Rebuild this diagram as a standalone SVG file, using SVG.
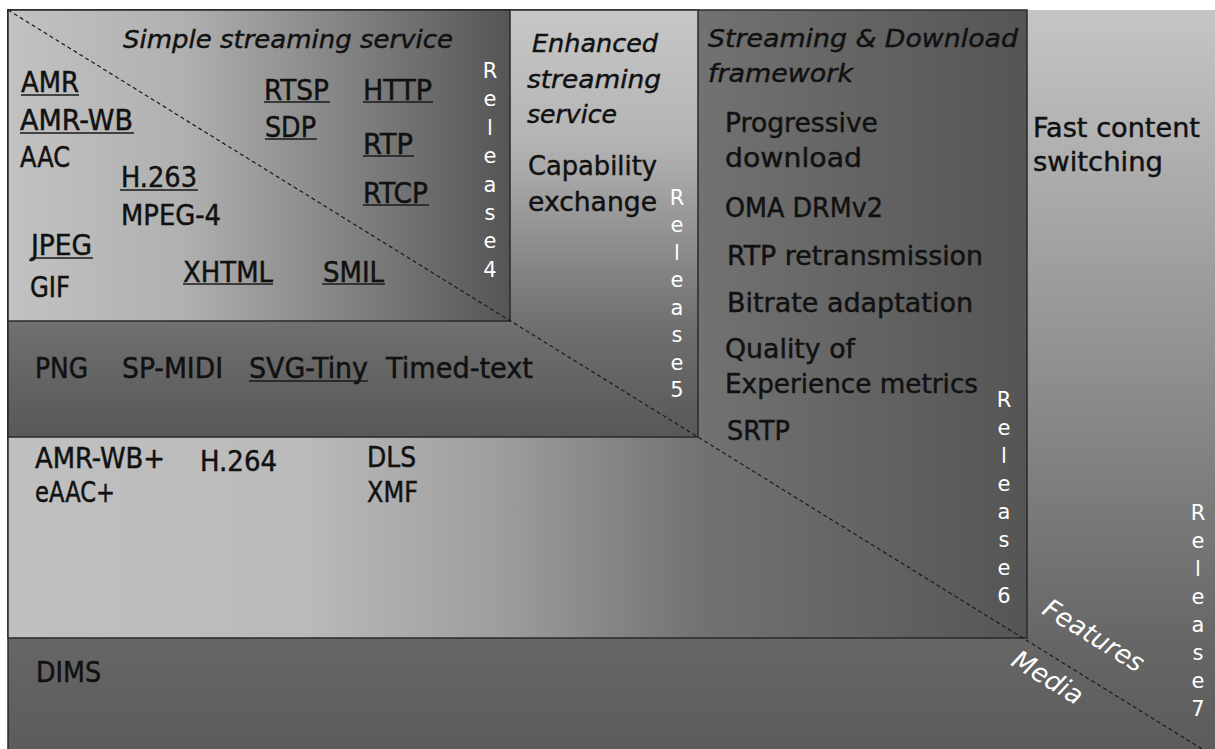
<svg xmlns="http://www.w3.org/2000/svg" width="1215" height="749" viewBox="0 0 1215 749">
<style>
.t{font-family:"DejaVu Sans","Open Sans",sans-serif;fill:#111;font-size:26px;stroke:#111;stroke-width:0.45}
.c{font-stretch:condensed;font-size:28px}
.i{font-style:italic;font-size:25px}
.rel{fill:#fff;stroke:none;font-size:21px;text-anchor:middle}
.ul{stroke:#1a1a1a;stroke-width:1.6}
.box{stroke:#2a2a2a;stroke-width:1.5}
.div{fill:#fff;stroke:none;font-style:italic;font-size:26px;text-anchor:middle}
</style>
<defs>
<linearGradient id="g7" x1="0" y1="0" x2="0" y2="1">
<stop offset="0" stop-color="#c5c5c5"/><stop offset="0.85" stop-color="#666666"/><stop offset="1" stop-color="#5b5b5b"/>
</linearGradient>
<linearGradient id="g6" x1="0" y1="0" x2="1" y2="0">
<stop offset="0" stop-color="#c0c0c0"/><stop offset="0.29" stop-color="#bababa"/><stop offset="0.48" stop-color="#9e9e9e"/><stop offset="0.68" stop-color="#727272"/><stop offset="1" stop-color="#555555"/>
</linearGradient>
<linearGradient id="g5" x1="0" y1="0" x2="0" y2="1">
<stop offset="0" stop-color="#c6c6c6"/><stop offset="0.3" stop-color="#b5b5b5"/><stop offset="0.75" stop-color="#6e6e6e"/><stop offset="1" stop-color="#585858"/>
</linearGradient>
<linearGradient id="g4" x1="0" y1="0" x2="1" y2="0">
<stop offset="0" stop-color="#c2c2c2"/><stop offset="0.35" stop-color="#b0b0b0"/><stop offset="1" stop-color="#555555"/>
</linearGradient>
</defs>
<rect width="1215" height="749" fill="#fff"/>

<g id="release7">
<rect x="8" y="10" width="1210" height="745" fill="url(#g7)"/>
<line class="box" x1="8" y1="10" x2="8" y2="749"/>
<text class="t" x="1033" y="137" textLength="167" lengthAdjust="spacingAndGlyphs">Fast content</text>
<text class="t" x="1033" y="171" textLength="130" lengthAdjust="spacingAndGlyphs">switching</text>
<text class="t c" x="36" y="682" textLength="65" lengthAdjust="spacingAndGlyphs">DIMS</text>
<g class="t rel">
<text x="1198" y="520">R</text><text x="1198" y="548">e</text><text x="1198" y="576">l</text><text x="1198" y="604">e</text><text x="1198" y="632">a</text><text x="1198" y="660">s</text><text x="1198" y="688">e</text><text x="1198" y="716">7</text>
</g>
</g>

<g id="release6">
<rect class="box" x="8" y="10" width="1019" height="628" fill="url(#g6)"/>
<text class="t i" x="708" y="47" textLength="310" lengthAdjust="spacingAndGlyphs">Streaming &amp; Download</text>
<text class="t i" x="708" y="82" textLength="145" lengthAdjust="spacingAndGlyphs">framework</text>
<text class="t" x="725" y="132" textLength="153" lengthAdjust="spacingAndGlyphs">Progressive</text>
<text class="t" x="725" y="167" textLength="137" lengthAdjust="spacingAndGlyphs">download</text>
<text class="t" x="725" y="217" textLength="158" lengthAdjust="spacingAndGlyphs">OMA DRMv2</text>
<text class="t" x="727" y="265" textLength="256" lengthAdjust="spacingAndGlyphs">RTP retransmission</text>
<text class="t" x="727" y="312" textLength="246" lengthAdjust="spacingAndGlyphs">Bitrate adaptation</text>
<text class="t" x="725" y="358" textLength="130" lengthAdjust="spacingAndGlyphs">Quality of</text>
<text class="t" x="725" y="393" textLength="253" lengthAdjust="spacingAndGlyphs">Experience metrics</text>
<text class="t" x="727" y="440" textLength="63" lengthAdjust="spacingAndGlyphs">SRTP</text>
<text class="t c" x="35" y="468" textLength="130" lengthAdjust="spacingAndGlyphs">AMR-WB+</text>
<text class="t c" x="35" y="502" textLength="80" lengthAdjust="spacingAndGlyphs">eAAC+</text>
<text class="t c" x="200" y="471" textLength="77" lengthAdjust="spacingAndGlyphs">H.264</text>
<text class="t c" x="367" y="467" textLength="49" lengthAdjust="spacingAndGlyphs">DLS</text>
<text class="t c" x="367" y="502" textLength="51" lengthAdjust="spacingAndGlyphs">XMF</text>
<g class="t rel">
<text x="1004" y="407">R</text><text x="1004" y="435">e</text><text x="1004" y="463">l</text><text x="1004" y="491">e</text><text x="1004" y="519">a</text><text x="1004" y="547">s</text><text x="1004" y="575">e</text><text x="1004" y="603">6</text>
</g>
</g>

<g id="release5">
<rect class="box" x="8" y="10" width="690" height="427" fill="url(#g5)"/>
<text class="t i" x="532" y="52" textLength="126" lengthAdjust="spacingAndGlyphs">Enhanced</text>
<text class="t i" x="527" y="88" textLength="134" lengthAdjust="spacingAndGlyphs">streaming</text>
<text class="t i" x="527" y="123" textLength="90" lengthAdjust="spacingAndGlyphs">service</text>
<text class="t" x="528" y="175" textLength="129" lengthAdjust="spacingAndGlyphs">Capability</text>
<text class="t" x="528" y="211" textLength="129" lengthAdjust="spacingAndGlyphs">exchange</text>
<text class="t c" x="35" y="378" textLength="53" lengthAdjust="spacingAndGlyphs">PNG</text>
<text class="t c" x="122" y="378" textLength="101" lengthAdjust="spacingAndGlyphs">SP-MIDI</text>
<text class="t c" x="249" y="378" textLength="119" lengthAdjust="spacingAndGlyphs">SVG-Tiny</text>
<line class="ul" x1="249" y1="381" x2="368" y2="381"/>
<text class="t c" x="386" y="378" textLength="147" lengthAdjust="spacingAndGlyphs">Timed-text</text>
<g class="t rel">
<text x="677" y="205">R</text><text x="677" y="232">e</text><text x="677" y="260">l</text><text x="677" y="287">e</text><text x="677" y="315">a</text><text x="677" y="342">s</text><text x="677" y="370">e</text><text x="677" y="397">5</text>
</g>
</g>

<g id="release4">
<rect class="box" x="8" y="10" width="502" height="311" fill="url(#g4)"/>
<text class="t i" x="123" y="48" textLength="330" lengthAdjust="spacingAndGlyphs">Simple streaming service</text>
<text class="t c" x="21" y="92" textLength="58" lengthAdjust="spacingAndGlyphs">AMR</text>
<line class="ul" x1="21" y1="95" x2="79" y2="95"/>
<text class="t c" x="20" y="130" textLength="113" lengthAdjust="spacingAndGlyphs">AMR-WB</text>
<line class="ul" x1="20" y1="133" x2="134" y2="133"/>
<text class="t c" x="20" y="167" textLength="50" lengthAdjust="spacingAndGlyphs">AAC</text>
<text class="t c" x="121" y="187" textLength="76" lengthAdjust="spacingAndGlyphs">H.263</text>
<line class="ul" x1="120" y1="190" x2="198" y2="190"/>
<text class="t c" x="121" y="225" textLength="100" lengthAdjust="spacingAndGlyphs">MPEG-4</text>
<text class="t c" x="31" y="255" textLength="61" lengthAdjust="spacingAndGlyphs">JPEG</text>
<line class="ul" x1="31" y1="258" x2="93" y2="258"/>
<text class="t c" x="30" y="297" textLength="40" lengthAdjust="spacingAndGlyphs">GIF</text>
<text class="t c" x="183" y="282" textLength="90" lengthAdjust="spacingAndGlyphs">XHTML</text>
<line class="ul" x1="183" y1="284" x2="273" y2="284"/>
<text class="t c" x="323" y="282" textLength="61" lengthAdjust="spacingAndGlyphs">SMIL</text>
<line class="ul" x1="322" y1="284" x2="385" y2="284"/>
<text class="t c" x="264" y="100" textLength="65" lengthAdjust="spacingAndGlyphs">RTSP</text>
<line class="ul" x1="264" y1="102" x2="330" y2="102"/>
<text class="t c" x="363" y="100" textLength="69" lengthAdjust="spacingAndGlyphs">HTTP</text>
<line class="ul" x1="363" y1="102" x2="433" y2="102"/>
<text class="t c" x="265" y="137" textLength="51" lengthAdjust="spacingAndGlyphs">SDP</text>
<line class="ul" x1="265" y1="139" x2="317" y2="139"/>
<text class="t c" x="363" y="154" textLength="50" lengthAdjust="spacingAndGlyphs">RTP</text>
<line class="ul" x1="363" y1="156" x2="414" y2="156"/>
<text class="t c" x="363" y="203" textLength="65" lengthAdjust="spacingAndGlyphs">RTCP</text>
<line class="ul" x1="363" y1="205" x2="429" y2="205"/>
<g class="t rel">
<text x="490" y="78">R</text><text x="490" y="106">e</text><text x="490" y="135">l</text><text x="490" y="163">e</text><text x="490" y="192">a</text><text x="490" y="220">s</text><text x="490" y="248">e</text><text x="490" y="277">4</text>
</g>
</g>

<g id="connectors">
<line x1="8" y1="10" x2="1215" y2="757" stroke="#1a1a1a" stroke-width="1.2" stroke-dasharray="4,3"/>
<text class="t div" x="1089" y="643" transform="rotate(31.8 1089 643)">Features</text>
<text class="t div" x="1043" y="685" transform="rotate(31.8 1043 685)">Media</text>
</g>
</svg>
